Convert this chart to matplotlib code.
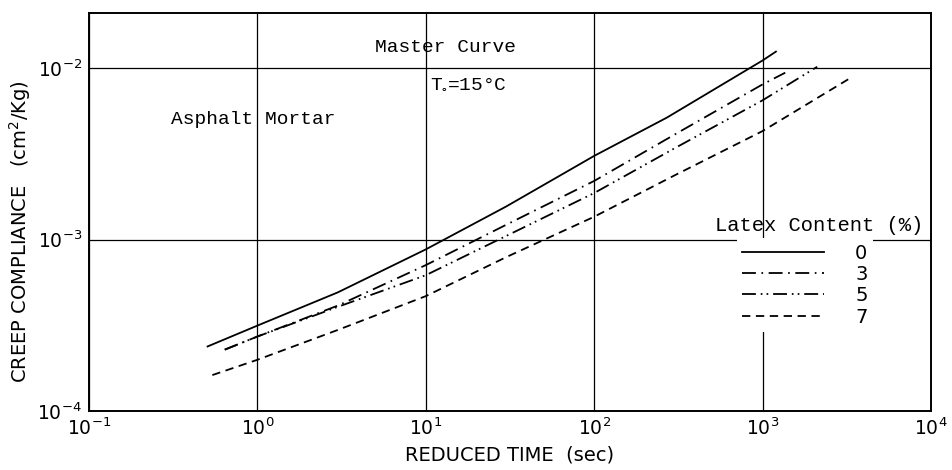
import matplotlib
matplotlib.use("Agg")
import matplotlib.pyplot as plt

# ---------------- data ----------------
t_0 = [0.506, 1.0, 3.0, 10.0, 30.0, 100.0, 270.0, 1000.0, 1200.0]
j_0 = [2.38e-4, 3.15e-4, 4.92e-4, 8.77e-4, 1.56e-3, 3.08e-3, 5.15e-3, 1.11e-2, 1.25e-2]

t_3 = [0.64, 1.0, 3.0, 10.0, 30.0, 100.0, 300.0, 1000.0, 1363.0]
j_3 = [2.28e-4, 2.72e-4, 4.12e-4, 7.1e-4, 1.22e-3, 2.2e-3, 4.1e-3, 8.05e-3, 9.42e-3]

t_5 = [0.64, 1.0, 3.0, 10.0, 30.0, 100.0, 300.0, 1000.0, 2110.0]
j_5 = [2.28e-4, 2.72e-4, 4.05e-4, 6.2e-4, 1.05e-3, 1.87e-3, 3.41e-3, 6.5e-3, 1.02e-2]

t_7 = [0.54, 1.0, 3.0, 10.0, 30.0, 100.0, 300.0, 1000.0, 3340.0]
j_7 = [1.62e-4, 1.99e-4, 2.97e-4, 4.68e-4, 7.9e-4, 1.36e-3, 2.37e-3, 4.3e-3, 8.8e-3]

series_labels = ["0", "3", "5", "7"]
x_ticks = [1e-1, 1e0, 1e1, 1e2, 1e3, 1e4]
x_tick_labels = [r"$10^{-1}$", r"$10^{0}$", r"$10^{1}$", r"$10^{2}$", r"$10^{3}$", r"$10^{4}$"]
y_ticks = [1e-4, 1e-3, 1e-2]
y_tick_labels = [r"$10^{-4}$", r"$10^{-3}$", r"$10^{-2}$"]

# ---------------- style ----------------
plt.rcParams["lines.scale_dashes"] = False
plt.rcParams["mathtext.default"] = "regular"
SANS = ["Liberation Sans Narrow", "DejaVu Sans"]
MONO = ["Liberation Mono", "DejaVu Sans Mono"]
plt.rcParams["font.family"] = SANS

W, H = 952, 470
fig = plt.figure(figsize=(W / 100, H / 100), dpi=100)
L, R, T, B = 89, 931, 13, 411
ax = fig.add_axes([L / W, 1 - B / H, (R - L) / W, (B - T) / H])

ax.set_xscale("log")
ax.set_yscale("log")
ax.set_xlim(1e-1, 1e4)
ax.set_ylim(1e-4, 2.1e-2)

ax.set_xticks(x_ticks)
ax.set_xticklabels(x_tick_labels, fontsize=13.5)
ax.set_yticks(y_ticks)
ax.set_yticklabels(y_tick_labels, fontsize=13.5)
ax.minorticks_off()
ax.tick_params(length=0, pad=5)
ax.grid(True, which="major", color="black", linewidth=0.9)
for s in ax.spines.values():
    s.set_linewidth(1.4)

lw = 1.3
l0, = ax.plot(t_0, j_0, color="black", lw=lw, linestyle="-", label=series_labels[0])
l3, = ax.plot(t_3, j_3, color="black", lw=lw, linestyle=(0, (10, 4, 1.2, 4)), label=series_labels[1])
l5, = ax.plot(t_5, j_5, color="black", lw=lw, linestyle=(0, (10, 3.5, 1.2, 3, 1.2, 3.5)), label=series_labels[2])
l7, = ax.plot(t_7, j_7, color="black", lw=lw, linestyle=(0, (6, 4)), label=series_labels[3])

# annotations
ax.text(13.1, 10 ** -1.877, "Master Curve", family=MONO, fontsize=14, ha="center", va="center")
ax.text(10.6, 10 ** -2.09, r"T$_{\circ}$=15°C", family=MONO, fontsize=14, ha="left", va="center")
ax.text(0.946, 10 ** -2.298, "Asphalt Mortar", family=MONO, fontsize=14, ha="center", va="center")

# legend
leg = ax.legend(handles=[l0, l3, l5, l7], loc="center",
                bbox_to_anchor=(805 / W, 1 - 285 / H), bbox_transform=fig.transFigure,
                frameon=True, facecolor="white", edgecolor="none", framealpha=1,
                fontsize=14, handlelength=4.2, handletextpad=1.6, labelspacing=0.12,
                borderpad=0.3, fancybox=False)
fig.text(819 / W, 1 - 226 / H, "Latex Content (%)", family=MONO, fontsize=14.8,
         ha="center", va="center")

# axis labels
fig.text(510 / W, 1 - 455 / H, "REDUCED TIME  (sec)", fontsize=14, ha="center", va="center")
fig.text(20 / W, 1 - 232 / H, "CREEP COMPLIANCE   (cm$^2$/Kg)", fontsize=14,
         ha="center", va="center", rotation=90)

fig.savefig("out.png", dpi=100, facecolor="white")
